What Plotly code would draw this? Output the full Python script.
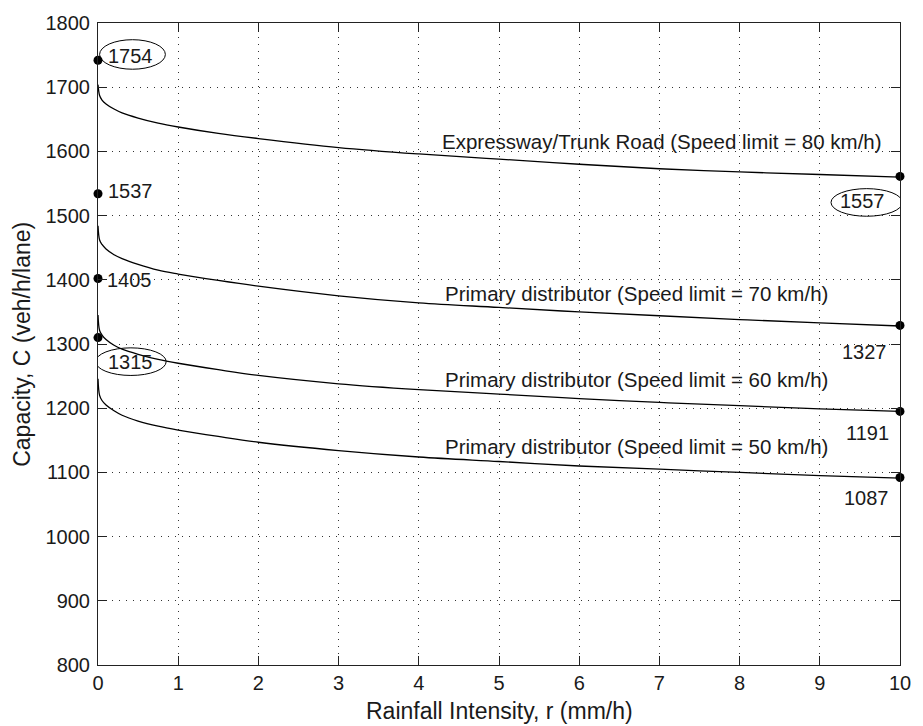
import plotly.graph_objects as go

# Rainfall intensity samples (mm/h)
r = [0, 0.02, 0.05, 0.1, 0.2, 0.3, 0.5, 0.75, 1, 1.5, 2, 3, 4, 5, 6, 7, 8, 9, 10]

# Capacity curves (veh/h/lane)
cap_80 = [1704, 1687, 1680, 1674, 1666, 1660, 1652, 1644, 1638, 1628, 1620, 1606, 1596, 1588, 1580, 1573, 1568, 1564, 1560]
cap_70 = [1484, 1462, 1455, 1448, 1439, 1433, 1424, 1415, 1409, 1399, 1390, 1375, 1364, 1357, 1350, 1344, 1338, 1333, 1328]
cap_60 = [1345, 1321, 1314, 1307, 1298, 1292, 1284, 1276, 1270, 1260, 1251, 1238, 1229, 1222, 1215, 1209, 1204, 1199, 1195]
cap_50 = [1246, 1220, 1212, 1205, 1196, 1189, 1180, 1172, 1166, 1156, 1147, 1134, 1124, 1117, 1110, 1105, 1100, 1095, 1091]

# End-point markers
pt_x = [0, 0, 0, 0, 10, 10, 10, 10]
pt_y = [1742, 1534, 1402, 1310, 1561, 1329, 1195, 1092]

# Labels
curve_labels = [
    "Expressway/Trunk Road (Speed limit = 80 km/h)",
    "Primary distributor (Speed limit = 70 km/h)",
    "Primary distributor (Speed limit = 60 km/h)",
    "Primary distributor (Speed limit = 50 km/h)",
]
value_labels = ["1754", "1537", "1405", "1315", "1557", "1327", "1191", "1087"]
x_ticks = list(range(0, 11))
y_ticks = list(range(800, 1801, 100))

FONT = "Liberation Sans, Arial, Helvetica, sans-serif"
INK = "#1a1a1a"

fig = go.Figure()
for ys in [cap_80, cap_70, cap_60, cap_50]:
    fig.add_trace(go.Scatter(x=r, y=ys, mode="lines", line=dict(color="black", width=1.3),
                             line_shape="spline", showlegend=False, hoverinfo="skip"))
fig.add_trace(go.Scatter(x=pt_x, y=pt_y, mode="markers", marker=dict(color="black", size=9),
                         cliponaxis=False, showlegend=False))

# curve labels
label_pos = [(4.27, 1616), (4.30, 1378), (4.30, 1244), (4.30, 1140)]
for (lx, ly), txt in zip(label_pos, curve_labels):
    fig.add_annotation(x=lx, y=ly, text=txt, showarrow=False, xanchor="left", yanchor="middle",
                       font=dict(family=FONT, size=20.5, color=INK))

# value labels
val_pos = [(0.40, 1748), (0.40, 1539), (0.39, 1399), (0.40, 1272),
           (9.53, 1522), (9.56, 1288), (9.59, 1161), (9.58, 1060)]
for (vx, vy), txt in zip(val_pos, value_labels):
    fig.add_annotation(x=vx, y=vy, text=txt, showarrow=False, xanchor="center", yanchor="middle",
                       font=dict(family=FONT, size=20, color=INK))

# ellipses around selected labels
for x0, x1, y0, y1 in [(0.02, 0.84, 1728, 1774), (-0.03, 0.85, 1251, 1294), (9.14, 10.03, 1499, 1542)]:
    fig.add_shape(type="circle", xref="x", yref="y", x0=x0, x1=x1, y0=y0, y1=y1,
                  line=dict(color="black", width=1))

# axis titles
fig.add_annotation(xref="paper", yref="paper", x=-0.095, y=0.5, text="Capacity, C (veh/h/lane)",
                   textangle=-90, showarrow=False, xanchor="center", yanchor="middle",
                   font=dict(family=FONT, size=23, color=INK))
fig.add_annotation(xref="paper", yref="paper", x=0.5, y=-0.072, text="Rainfall Intensity, r (mm/h)",
                   showarrow=False, xanchor="center", yanchor="middle",
                   font=dict(family=FONT, size=23, color=INK))

axis_common = dict(showline=True, linecolor="#222222", linewidth=1, mirror="allticks",
                   ticks="inside", ticklen=9, tickcolor="#222222", tickwidth=1,
                   showgrid=True, gridcolor="#333333", gridwidth=1, griddash="1px,6px",
                   zeroline=False, tickfont=dict(family=FONT, size=20, color=INK))

fig.update_xaxes(range=[0, 10], tickvals=x_ticks, **axis_common)
fig.update_yaxes(range=[800, 1800], tickvals=y_ticks, ticklabelstandoff=3, **axis_common)

fig.update_layout(width=923, height=726, margin=dict(l=98, r=13, t=19, b=61),
                  plot_bgcolor="white", paper_bgcolor="white")

fig.write_html("out.html")
